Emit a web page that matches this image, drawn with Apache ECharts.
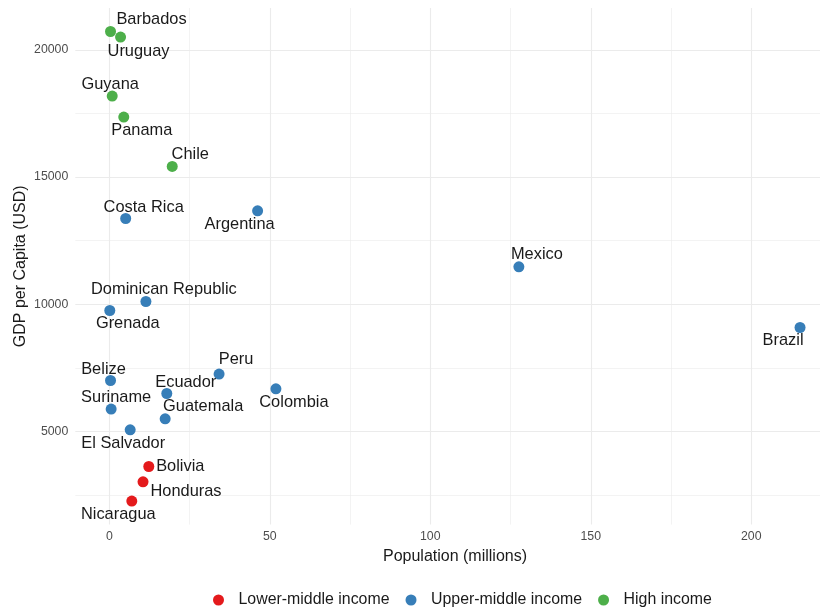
<!DOCTYPE html>
<html>
<head>
<meta charset="utf-8">
<script src="https://cdn.jsdelivr.net/npm/echarts@6/dist/echarts.min.js"></script>
<style>html,body{margin:0;padding:0;background:#fff}#c{width:820px;height:612px}</style>
</head>
<body>
<div id="c"></div>
<script>
// ---- data ----
var countries = ['Barbados','Uruguay','Guyana','Panama','Chile','Costa Rica','Argentina','Mexico','Brazil','Dominican Republic','Grenada','Peru','Belize','Ecuador','Colombia','Suriname','Guatemala','El Salvador','Bolivia','Honduras','Nicaragua'];
var population = [0.37, 3.5, 0.9, 4.5, 19.6, 5.1, 46.2, 127.6, 215.2, 11.4, 0.15, 34.2, 0.37, 17.9, 51.9, 0.57, 17.4, 6.5, 12.3, 10.5, 7.0];
var gdpPerCapita = [20719, 20499, 18181, 17356, 15415, 13371, 13674, 11473, 9088, 10110, 9756, 7257, 7006, 6495, 6680, 5882, 5501, 5069, 3627, 3026, 2267];
var incomeGroup = ['High income','High income','High income','High income','High income','Upper-middle income','Upper-middle income','Upper-middle income','Upper-middle income','Upper-middle income','Upper-middle income','Upper-middle income','Upper-middle income','Upper-middle income','Upper-middle income','Upper-middle income','Upper-middle income','Upper-middle income','Lower-middle income','Lower-middle income','Lower-middle income'];
var groups = ['Lower-middle income','Upper-middle income','High income'];
var xMajorTicks = [0, 50, 100, 150, 200];
var xMinorTicks = [25, 75, 125, 175, 225];
var yMajorTicks = [5000, 10000, 15000, 20000];
var yMinorTicks = [2500, 7500, 12500, 17500];

// ---- styling / layout (not data) ----
var groupColors = {'Lower-middle income':'#E41A1C','Upper-middle income':'#377EB8','High income':'#4DAF4A'};
var labelOffsets = {
  'Barbados':[41,-12],'Uruguay':[18,14],'Guyana':[-2,-12],'Panama':[18,13],'Chile':[18,-12],
  'Costa Rica':[18,-11],'Argentina':[-18,14],'Mexico':[18,-12],'Brazil':[-17,13],
  'Dominican Republic':[18,-12],'Grenada':[18,13],'Peru':[17,-15],'Belize':[-7,-11],
  'Ecuador':[19,-11],'Colombia':[18,14],'Suriname':[5,-12],'Guatemala':[38,-12],
  'El Salvador':[-7,14],'Bolivia':[31.5,0],'Honduras':[43,10],'Nicaragua':[-13.5,13]
};
var FONT = 'Liberation Sans, Arial, sans-serif';
var GRID = '#ebebeb';

var series = groups.map(function (g) {
  var pts = [];
  for (var i = 0; i < countries.length; i++) {
    if (incomeGroup[i] !== g) continue;
    pts.push({
      name: countries[i],
      value: [population[i], gdpPerCapita[i]],
      label: {offset: labelOffsets[countries[i]] || [0, -12]}
    });
  }
  return {
    name: g, type: 'scatter', xAxisIndex: 0, yAxisIndex: 0,
    symbolSize: 11, itemStyle: {color: groupColors[g], opacity: 1},
    label: {show: true, position: 'inside', formatter: '{b}', color: '#1a1a1a',
      fontSize: 16.4, fontFamily: FONT, align: 'center', verticalAlign: 'middle'},
    emphasis: {disabled: true},
    data: pts
  };
});

var xMin = -10.6, xMax = 226, yMin = 1344, yMax = 21642;
var plain = function (v) { return String(v); };

var option = {
  animation: false,
  backgroundColor: '#fff',
  grid: {left: 75.3, top: 8, width: 759.4, height: 516.6, containLabel: false, outerBoundsMode: 'none'},
  legend: {
    data: groups, left: 208, top: 587, icon: 'circle', itemWidth: 30, itemHeight: 11, itemGap: 16,
    textStyle: {fontSize: 15.9, color: '#1a1a1a', fontFamily: FONT}
  },
  xAxis: [{
    type: 'value', min: xMin, max: xMax, position: 'bottom',
    name: 'Population (millions)', nameLocation: 'middle', nameGap: 24, nameMoveOverlap: false,
    nameTextStyle: {fontSize: 16, color: '#1a1a1a', fontFamily: FONT},
    axisLine: {show: false}, axisTick: {show: false, customValues: xMajorTicks},
    axisLabel: {customValues: xMajorTicks, formatter: plain, fontSize: 12.3, color: '#4d4d4d', margin: 6, fontFamily: FONT},
    splitLine: {show: true, lineStyle: {color: GRID, width: 1.1}}
  }, {
    type: 'value', min: xMin, max: xMax, position: 'top',
    axisLine: {show: false}, axisTick: {show: false, customValues: xMinorTicks},
    axisLabel: {show: false, customValues: xMinorTicks},
    splitLine: {show: true, lineStyle: {color: GRID, width: 0.6}}
  }],
  yAxis: [{
    type: 'value', min: yMin, max: yMax, position: 'left',
    name: 'GDP per Capita (USD)', nameLocation: 'middle', nameGap: 47, nameMoveOverlap: false,
    nameTextStyle: {fontSize: 16, color: '#1a1a1a', fontFamily: FONT},
    axisLine: {show: false}, axisTick: {show: false, customValues: yMajorTicks},
    axisLabel: {customValues: yMajorTicks, formatter: plain, fontSize: 12.3, color: '#4d4d4d', margin: 7, fontFamily: FONT},
    splitLine: {show: true, lineStyle: {color: GRID, width: 1.1}}
  }, {
    type: 'value', min: yMin, max: yMax, position: 'right',
    axisLine: {show: false}, axisTick: {show: false, customValues: yMinorTicks},
    axisLabel: {show: false, customValues: yMinorTicks},
    splitLine: {show: true, lineStyle: {color: GRID, width: 0.6}}
  }],
  series: series
};

var chart = echarts.init(document.getElementById('c'), null, {renderer: 'canvas'});
chart.setOption(option);
</script>
</body>
</html>
